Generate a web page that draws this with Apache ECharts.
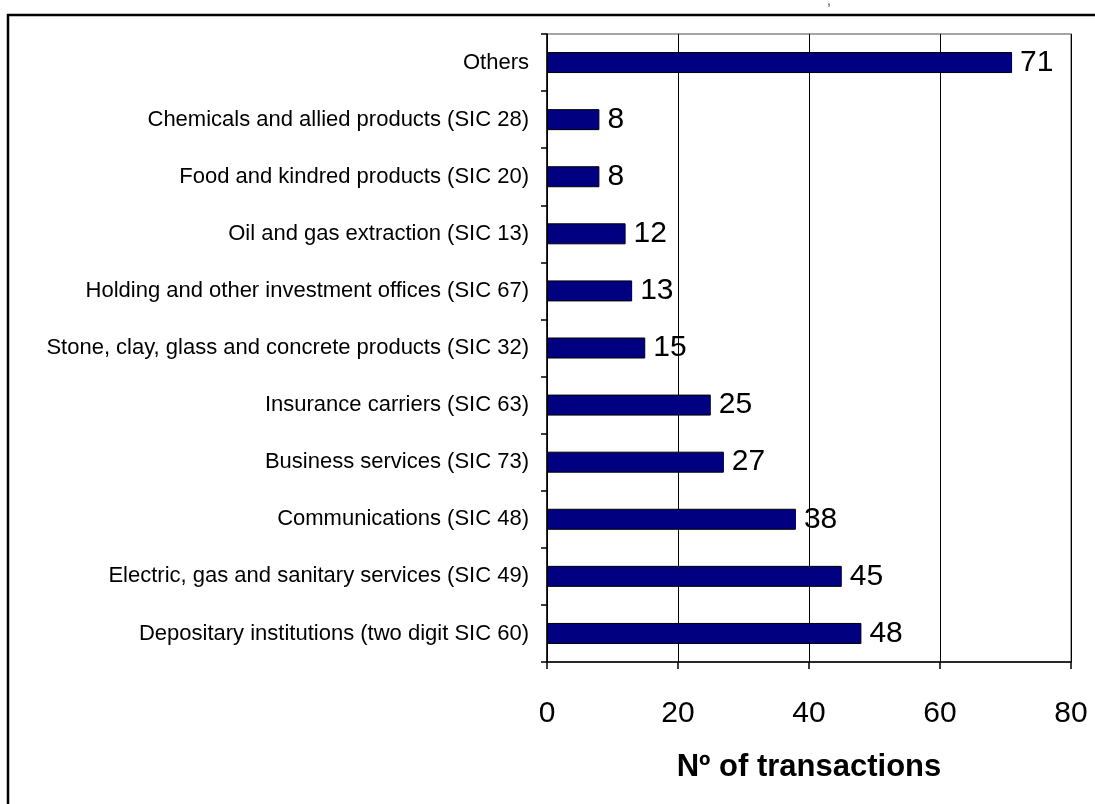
<!DOCTYPE html>
<html>
<head>
<meta charset="utf-8">
<script src="https://cdn.jsdelivr.net/npm/echarts@6/dist/echarts.min.js"></script>
<style>html,body{margin:0;padding:0;background:#fff;}#c{width:1095px;height:804px;}</style>
</head>
<body>
<div id="c"></div>
<script>
// bottom-to-top order (ECharts category axis starts at bottom)
const categories = [
  "Depositary institutions (two digit SIC 60)",
  "Electric, gas and sanitary services (SIC 49)",
  "Communications (SIC 48)",
  "Business services (SIC 73)",
  "Insurance carriers (SIC 63)",
  "Stone, clay, glass and concrete products (SIC 32)",
  "Holding and other investment offices (SIC 67)",
  "Oil and gas extraction (SIC 13)",
  "Food and kindred products (SIC 20)",
  "Chemicals and allied products (SIC 28)",
  "Others"
];
const transactions = [48, 45, 38, 27, 25, 15, 13, 12, 8, 8, 71];
const xTicks = [0, 20, 40, 60, 80];
const xAxisTitle = "Nº of transactions";

const chart = echarts.init(document.getElementById('c'), null, {renderer: 'canvas'});
const FONT = 'Liberation Sans, Arial, sans-serif';
chart.setOption({
  animation: false,
  backgroundColor: '#fff',
  graphic: [
    {type: 'rect', shape: {x: 8, y: 15, width: 1200, height: 900},
     style: {fill: 'none', stroke: '#000', lineWidth: 2.5}, silent: true},
    {type: 'text', left: 827, top: -6, style: {text: ',', fontSize: 14, fill: '#444', fontFamily: FONT}}
  ],
  grid: {left: 547, right: 24, top: 34, bottom: 142, show: true, borderColor: '#888', borderWidth: 1.5, backgroundColor: 'transparent'},
  xAxis: {
    type: 'value', min: xTicks[0], max: xTicks[xTicks.length - 1], interval: 20,
    name: xAxisTitle, nameLocation: 'middle', nameGap: 90,
    nameTextStyle: {fontSize: 31, fontWeight: 'bold', color: '#000', fontFamily: FONT},
    axisLine: {show: true, lineStyle: {color: '#000', width: 1.5}},
    axisTick: {show: true, length: 7, lineStyle: {color: '#000', width: 1.5}},
    axisLabel: {fontSize: 30, color: '#000', margin: 37, fontFamily: FONT},
    splitLine: {show: true, lineStyle: {color: '#000', width: 1}}
  },
  yAxis: {
    type: 'category', data: categories,
    axisLine: {show: true, lineStyle: {color: '#000', width: 1.5}},
    axisTick: {show: true, length: 6, alignWithLabel: false, lineStyle: {color: '#000', width: 1.5}},
    axisLabel: {fontSize: 22, color: '#000', margin: 18, fontFamily: FONT},
    splitLine: {show: false}
  },
  series: [{
    type: 'bar', data: transactions, barWidth: 21,
    itemStyle: {color: '#000080', borderColor: '#000', borderWidth: 1},
    label: {show: true, position: 'right', distance: 8, fontSize: 30, color: '#000', fontFamily: FONT}
  }]
});
</script>
</body>
</html>
